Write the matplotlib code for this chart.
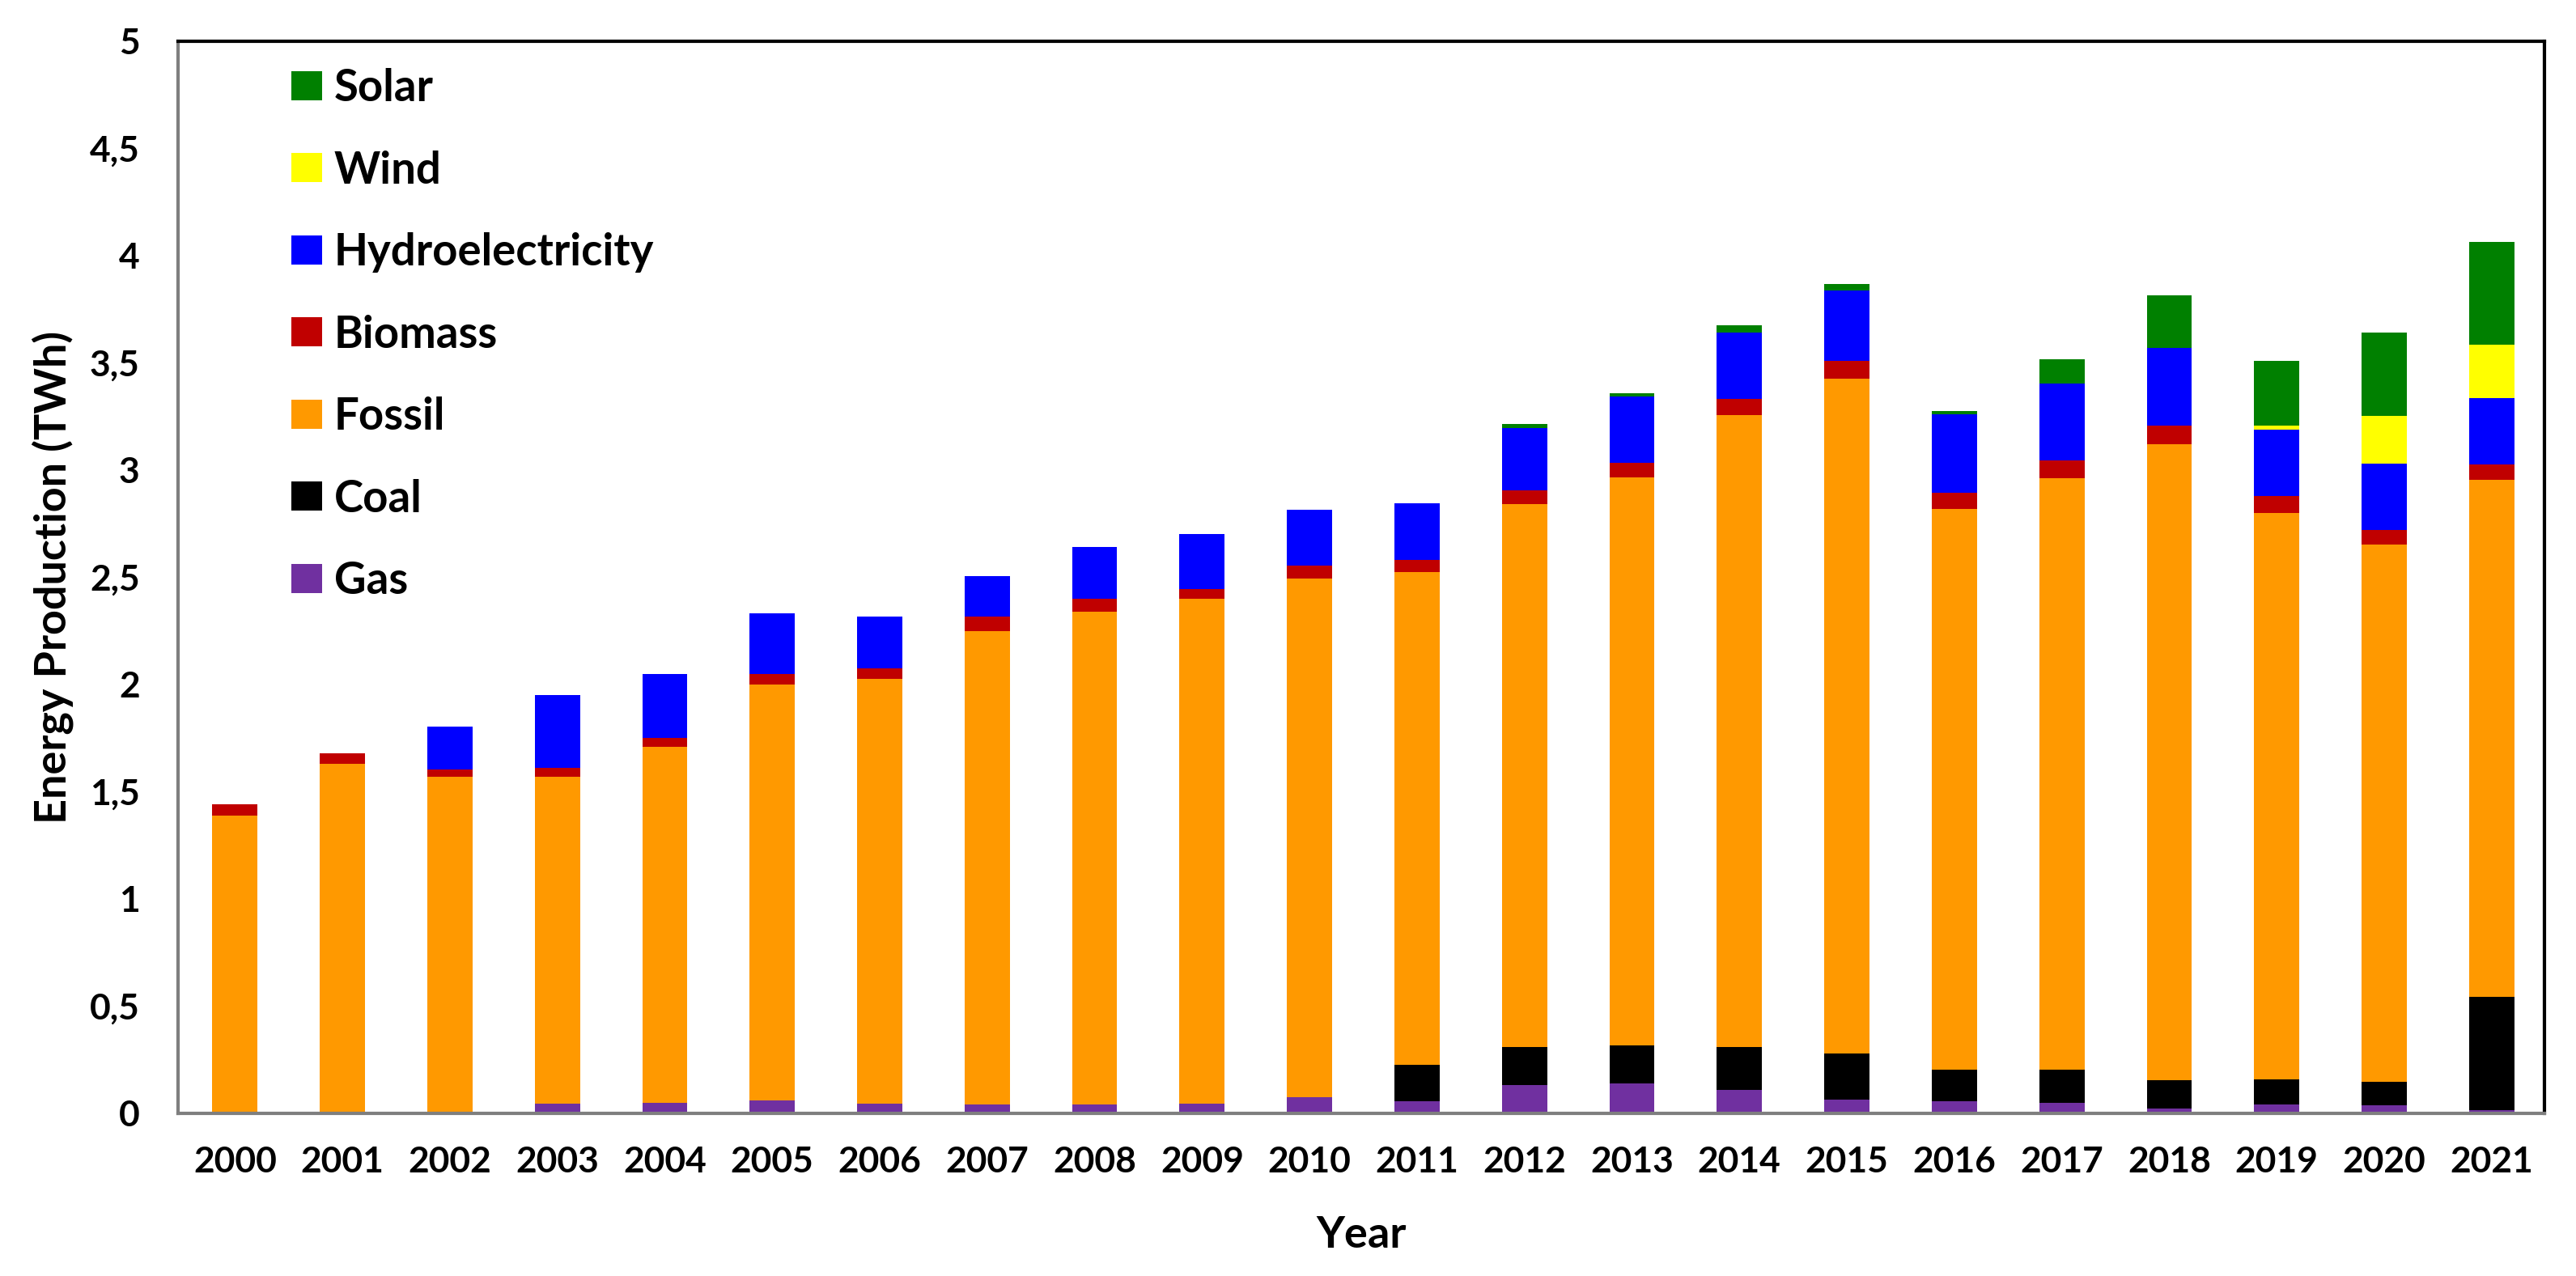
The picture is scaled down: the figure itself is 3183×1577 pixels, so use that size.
import matplotlib
matplotlib.use("Agg")
import matplotlib.pyplot as plt
from matplotlib.patches import Patch

years = [str(y) for y in range(2000, 2022)]
gas = [0, 0, 0, 0.045, 0.05, 0.06, 0.045, 0.04, 0.04, 0.045, 0.075,
       0.055, 0.13, 0.14, 0.11, 0.065, 0.058, 0.05, 0.022, 0.042, 0.036, 0.014]
coal = [0, 0, 0, 0, 0, 0, 0, 0, 0, 0, 0,
        0.17, 0.18, 0.175, 0.20, 0.215, 0.145, 0.152, 0.133, 0.118, 0.111, 0.528]
fossil = [1.39, 1.63, 1.57, 1.525, 1.66, 1.94, 1.98, 2.21, 2.30, 2.355, 2.42,
          2.30, 2.53, 2.65, 2.945, 3.145, 2.615, 2.76, 2.964, 2.64, 2.507, 2.414]
biomass = [0.05, 0.05, 0.035, 0.04, 0.04, 0.05, 0.05, 0.065, 0.06, 0.045, 0.06,
           0.055, 0.065, 0.07, 0.077, 0.083, 0.077, 0.083, 0.089, 0.078, 0.067, 0.069]
hydro = [0, 0, 0.20, 0.34, 0.30, 0.28, 0.24, 0.19, 0.24, 0.255, 0.26,
         0.265, 0.29, 0.31, 0.31, 0.33, 0.365, 0.357, 0.36, 0.311, 0.31, 0.31]
wind = [0, 0, 0, 0, 0, 0, 0, 0, 0, 0, 0,
        0, 0, 0, 0, 0, 0, 0, 0, 0.019, 0.221, 0.249]
solar = [0, 0, 0, 0, 0, 0, 0, 0, 0, 0, 0,
         0, 0.02, 0.015, 0.034, 0.028, 0.014, 0.116, 0.246, 0.302, 0.388, 0.479]

series = [("Gas", gas, "#7030A0"),
          ("Coal", coal, "#000000"),
          ("Fossil", fossil, "#FF9900"),
          ("Biomass", biomass, "#C00000"),
          ("Hydroelectricity", hydro, "#0000FF"),
          ("Wind", wind, "#FFFF00"),
          ("Solar", solar, "#008000")]

plt.rcParams['font.family'] = ['Lato', 'DejaVu Sans']
plt.rcParams['font.weight'] = 'bold'

fig = plt.figure(figsize=(31.83, 15.77), dpi=100)
renderer = fig.canvas.get_renderer()


def fit_size(s, target_px):
    t = fig.text(0, 0, s, fontsize=100, fontweight='bold')
    w = t.get_window_extent(renderer).width
    t.remove()
    return 100.0 * target_px / w


def text_height(s, fs):
    t = fig.text(0, 0, s, fontsize=fs, fontweight='bold')
    h = t.get_window_extent(renderer).height
    t.remove()
    return h


tick_fs = fit_size("2000", 103)
label_fs = fit_size("Energy Production (TWh)", 610)
leg_fs = fit_size("Hydroelectricity", 395)

ax = fig.add_axes([0.0691, 0.1275, 0.9186, 0.8402])

x = list(range(len(years)))
bottom = [0.0] * len(years)
for name, vals, col in series:
    ax.bar(x, vals, width=0.42, bottom=bottom, color=col, label=name, linewidth=0)
    bottom = [b + v for b, v in zip(bottom, vals)]

ax.set_xlim(-0.53, 21.49)
ax.set_ylim(0, 5)
ax.set_xticks(x)
ax.set_xticklabels(years)
yt = [0, 0.5, 1, 1.5, 2, 2.5, 3, 3.5, 4, 4.5, 5]
ax.set_yticks(yt)
ax.set_yticklabels([("%g" % v).replace(".", ",") for v in yt])
ax.tick_params(axis='both', length=0, labelsize=tick_fs)
ax.tick_params(axis='y', pad=34)
ax.tick_params(axis='x', pad=29)
for lab in ax.get_xticklabels() + ax.get_yticklabels():
    lab.set_fontweight('bold')

ax.set_xlabel("Year", fontsize=label_fs, fontweight='bold')
ax.set_ylabel("Energy Production (TWh)", fontsize=label_fs, fontweight='bold')
ax.xaxis.set_label_coords(0.5, -0.114)
ax.xaxis.label.set_verticalalignment('center')
ax.yaxis.set_label_coords(-0.053, 0.5)
ax.yaxis.label.set_verticalalignment('center')

for s in ['left', 'bottom']:
    ax.spines[s].set_color('#7f7f7f')
    ax.spines[s].set_linewidth(3)
for s in ['top', 'right']:
    ax.spines[s].set_color('#000000')
    ax.spines[s].set_linewidth(3)

leg_px = leg_fs * 100 / 72.0
row_h = text_height("lp", leg_fs)
spacing = max((101.5 - row_h) / leg_px, 0.1)
handles = [Patch(facecolor=col, label=name) for name, vals, col in series][::-1]
leg = ax.legend(handles=handles, loc='upper left', bbox_to_anchor=(0.0479, 0.975),
                frameon=False, fontsize=leg_fs, handlelength=38.0 / leg_px,
                handleheight=35.0 / leg_px, handletextpad=15.0 / leg_px,
                labelspacing=spacing, borderaxespad=0, borderpad=0)
for t in leg.get_texts():
    t.set_fontweight('bold')

fig.savefig("out.png", dpi=100)
